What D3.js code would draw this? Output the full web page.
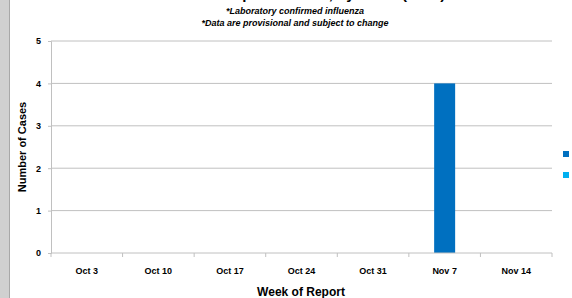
<!DOCTYPE html>
<meta charset="utf-8">
<script src="https://d3js.org/d3.v7.min.js"></script>
<style>
  body { margin: 0; background: #fff; }
  svg text { font-family: "Liberation Sans", Arial, sans-serif; font-weight: bold; fill: #000; }
</style>
<div id="chart"></div>
<script>
  // data
  const weeks = ["Oct 3", "Oct 10", "Oct 17", "Oct 24", "Oct 31", "Nov 7", "Nov 14"];
  const seriesA = [0, 0, 0, 0, 0, 4, 0];
  const seriesB = [0, 0, 0, 0, 0, 0, 0];
  const seriesNames = ["Hospitalized", "Not hospitalized"];
  const seriesColors = ["#0070c0", "#00b0f0"];
  const yTicks = [0, 1, 2, 3, 4, 5];

  const W = 572, H = 298;
  const margin = {top: 41, right: 20, bottom: 45, left: 51};
  const width = 552 - margin.left, height = 253 - margin.top;

  const svg = d3.select("#chart").append("svg")
    .attr("width", W).attr("height", H);

  // grey strip on the left edge
  svg.append("rect").attr("x", 0).attr("y", 0).attr("width", 9).attr("height", H).attr("fill", "#d0d0d0");
  svg.append("rect").attr("x", 9).attr("y", 0).attr("width", 1).attr("height", H).attr("fill", "#a8a8a8");

  // titles (the main one is cut off at the top, as in the source)
  svg.append("text").attr("x", 295).attr("y", -1).attr("text-anchor", "middle")
    .style("font-size", "15px").text("Influenza Hospitalizations, by Week (2010)");
  svg.append("text").attr("x", 295).attr("y", 14).attr("text-anchor", "middle")
    .style("font-size", "9px").style("font-style", "italic").text("*Laboratory confirmed influenza");
  svg.append("text").attr("x", 295).attr("y", 26).attr("text-anchor", "middle")
    .style("font-size", "9px").style("font-style", "italic").text("*Data are provisional and subject to change");

  const g = svg.append("g").attr("transform", `translate(${margin.left},${margin.top})`);

  const x = d3.scaleBand().domain(weeks).range([0, width]);
  const y = d3.scaleLinear().domain([0, 5]).range([height, 0]);

  // gridlines
  g.selectAll(".grid").data(yTicks.filter(d => d > 0)).join("line")
    .attr("x1", 0).attr("x2", width)
    .attr("y1", d => y(d)).attr("y2", d => y(d))
    .attr("stroke", "#c0c0c0").attr("stroke-width", 1);

  // y axis
  const yAxis = g.append("g").call(d3.axisLeft(y).tickValues(yTicks).tickFormat(d3.format("d")).tickSize(3).tickPadding(7));
  yAxis.select(".domain").attr("stroke", "#c0c0c0");
  yAxis.selectAll(".tick line").attr("stroke", "#c0c0c0");
  yAxis.selectAll("text").style("font-size", "9px");

  // stacked bars
  const rows = weeks.map((w, i) => ({week: w, a: seriesA[i], b: seriesB[i]}));
  const stack = d3.stack().keys(["a", "b"])(rows);
  const barW = 21;
  g.selectAll(".series").data(stack).join("g")
    .attr("fill", (d, i) => seriesColors[i])
    .selectAll("rect").data(d => d).join("rect")
      .attr("x", d => x(d.data.week) + x.bandwidth() / 2 - barW / 2)
      .attr("width", barW)
      .attr("y", d => y(d[1]))
      .attr("height", d => y(d[0]) - y(d[1]));

  // x axis with ticks between categories
  g.append("line").attr("x1", 0).attr("x2", width).attr("y1", height).attr("y2", height)
    .attr("stroke", "#c0c0c0");
  g.selectAll(".xtick").data(d3.range(weeks.length + 1)).join("line")
    .attr("x1", d => d * x.step()).attr("x2", d => d * x.step())
    .attr("y1", height).attr("y2", height + 4)
    .attr("stroke", "#c0c0c0");
  g.selectAll(".xlab").data(weeks).join("text")
    .attr("x", d => x(d) + x.bandwidth() / 2)
    .attr("y", height + 21)
    .attr("text-anchor", "middle")
    .style("font-size", "9px")
    .text(d => d);

  // axis titles
  svg.append("text").attr("x", 301).attr("y", 296).attr("text-anchor", "middle")
    .style("font-size", "12px").text("Week of Report");
  svg.append("text").attr("transform", "translate(26,147) rotate(-90)").attr("text-anchor", "middle")
    .style("font-size", "11px").text("Number of Cases");

  // legend markers (their labels fall outside the picture)
  const leg = svg.append("g").selectAll("g").data(seriesNames).join("g")
    .attr("transform", (d, i) => `translate(563,${151 + i * 21})`);
  leg.append("rect").attr("width", 6).attr("height", 6).attr("fill", (d, i) => seriesColors[i]);
</script>
